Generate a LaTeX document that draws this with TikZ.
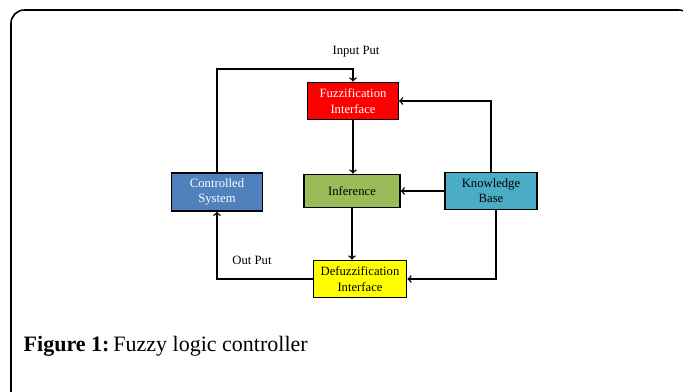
\documentclass[tikz,border=0pt]{standalone}
\usepackage{fontspec}
\setmainfont{Liberation Serif}
\usepackage{tikz}
\usetikzlibrary{positioning}

\definecolor{fuzzred}{RGB}{255,0,0}
\definecolor{infgreen}{RGB}{155,187,89}
\definecolor{kbteal}{RGB}{75,172,198}
\definecolor{sysblue}{RGB}{79,129,189}
\definecolor{defyellow}{RGB}{255,255,0}

\begin{document}
\begin{tikzpicture}[x=0.75pt, y=-0.75pt, >=to, line width=1.1pt,
  block/.style={draw=black, line width=1.1pt, align=center, inner sep=0pt,
    font=\fontsize{9.5}{11.5}\selectfont},
  lbl/.style={font=\fontsize{9.5}{11.5}\selectfont}]

\useasboundingbox (0,0) rectangle (683,392);
\clip (0,0) rectangle (683,392);
\draw [rounded corners=10pt, line width=1.2pt] (11,400) -- (11,10) -- (692,10) -- (692,400);

\node [block, fill=fuzzred, text=white, minimum width=68pt, minimum height=28pt] (fuzz) at (353,101) {Fuzzification\\Interface};
\node [block, fill=infgreen, minimum width=72pt, minimum height=25pt] (inf) at (352,191) {Inference};
\node [block, fill=kbteal, minimum width=69pt, minimum height=28pt] (kb) at (491,191) {Knowledge\\Base};
\node [block, fill=sysblue, text=white, minimum width=68pt, minimum height=28.5pt] (ctrl) at (217,192) {Controlled\\System};
\node [block, fill=defyellow, minimum width=70pt, minimum height=28pt] (defuzz) at (360,279) {Defuzzification\\Interface};

\node [lbl] (inlbl) at (356,52) {Input Put};
\node [lbl] (outlbl) at (252,260) {Out Put};
\coordinate (top) at (0,69);

\draw [->] (ctrl.north) |- (top -| fuzz.north) -- (fuzz.north);
\draw [->] (kb.north) |- (fuzz.east);
\draw [->] (kb) -- (inf);
\draw [->] (fuzz.south) -- (fuzz.south |- inf.north);
\draw [->] (inf.south) -- (inf.south |- defuzz.north);
\draw [->] ([xshift=3.6pt]kb.south) |- (defuzz.east);
\draw [->] (defuzz.west) -| (ctrl.south);

\node [anchor=base west, font=\fontsize{16.5}{19}\selectfont, inner sep=0pt] (caption) at (23,352) {\textbf{Figure 1:}\hspace{3pt}Fuzzy logic controller};

\end{tikzpicture}
\end{document}
